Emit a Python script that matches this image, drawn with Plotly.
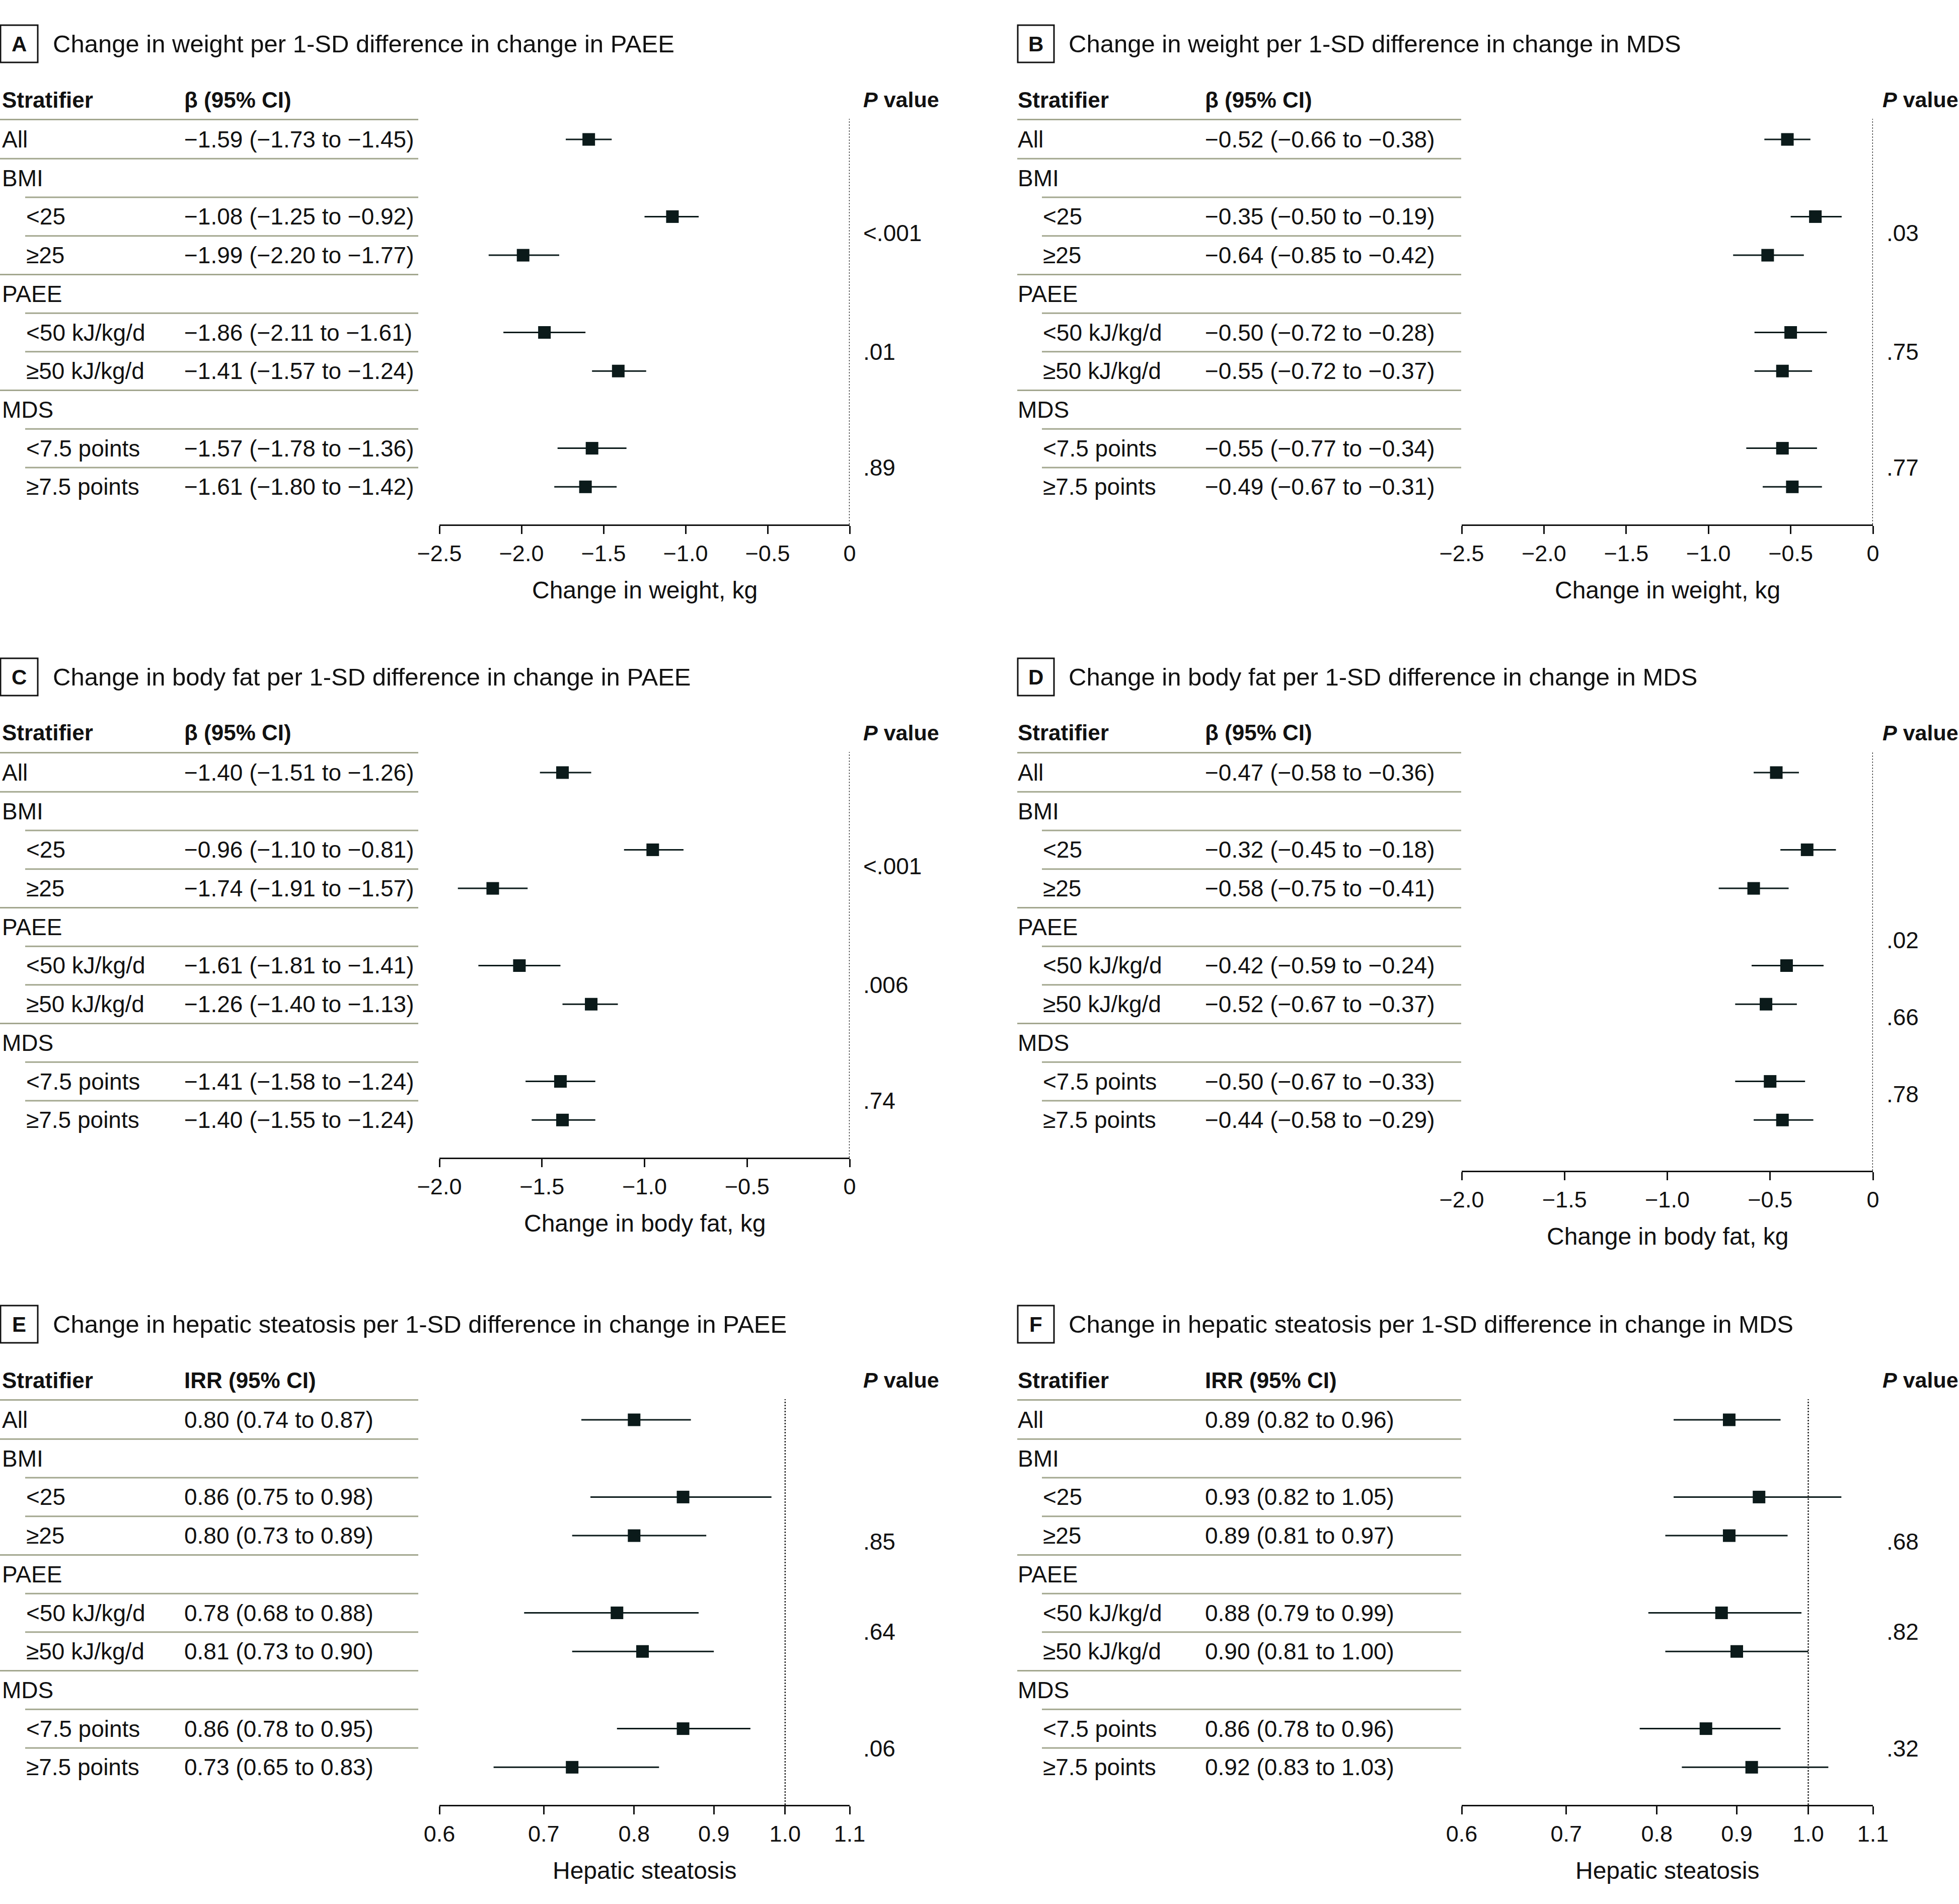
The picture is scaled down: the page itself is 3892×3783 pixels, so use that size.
import math
import plotly.graph_objects as go

W, H = 3892, 3783
FONT = "Liberation Sans, Arial, Helvetica, sans-serif"
INK = "#0b1a1a"
RULE = "#a3a78f"

# ------------------------------------------------------------------ data
stratifiers = ["All", "BMI", "&lt;25", "≥25", "PAEE", "&lt;50 kJ/kg/d", "≥50 kJ/kg/d",
               "MDS", "&lt;7.5 points", "≥7.5 points"]
indented = [False, False, True, True, False, True, True, False, True, True]
est_rows = [0, 2, 3, 5, 6, 8, 9]          # rows that carry an estimate

a_est = [-1.59, -1.08, -1.99, -1.86, -1.41, -1.57, -1.61]
a_lo = [-1.73, -1.25, -2.20, -2.11, -1.57, -1.78, -1.80]
a_hi = [-1.45, -0.92, -1.77, -1.61, -1.24, -1.36, -1.42]
a_p = ["&lt;.001", ".01", ".89"]

b_est = [-0.52, -0.35, -0.64, -0.50, -0.55, -0.55, -0.49]
b_lo = [-0.66, -0.50, -0.85, -0.72, -0.72, -0.77, -0.67]
b_hi = [-0.38, -0.19, -0.42, -0.28, -0.37, -0.34, -0.31]
b_p = [".03", ".75", ".77"]

c_est = [-1.40, -0.96, -1.74, -1.61, -1.26, -1.41, -1.40]
c_lo = [-1.51, -1.10, -1.91, -1.81, -1.40, -1.58, -1.55]
c_hi = [-1.26, -0.81, -1.57, -1.41, -1.13, -1.24, -1.24]
c_p = ["&lt;.001", ".006", ".74"]

d_est = [-0.47, -0.32, -0.58, -0.42, -0.52, -0.50, -0.44]
d_lo = [-0.58, -0.45, -0.75, -0.59, -0.67, -0.67, -0.58]
d_hi = [-0.36, -0.18, -0.41, -0.24, -0.37, -0.33, -0.29]
d_p = [".02", ".66", ".78"]

e_est = [0.80, 0.86, 0.80, 0.78, 0.81, 0.86, 0.73]
e_lo = [0.74, 0.75, 0.73, 0.68, 0.73, 0.78, 0.65]
e_hi = [0.87, 0.98, 0.89, 0.88, 0.90, 0.95, 0.83]
e_p = [".85", ".64", ".06"]

f_est = [0.89, 0.93, 0.89, 0.88, 0.90, 0.86, 0.92]
f_lo = [0.82, 0.82, 0.81, 0.79, 0.81, 0.78, 0.83]
f_hi = [0.96, 1.05, 0.97, 0.99, 1.00, 0.96, 1.03]
f_p = [".68", ".82", ".32"]

weight_ticks = [-2.5, -2.0, -1.5, -1.0, -0.5, 0]
weight_ticktext = ["−2.5", "−2.0", "−1.5", "−1.0", "−0.5", "0"]
fat_ticks = [-2.0, -1.5, -1.0, -0.5, 0]
fat_ticktext = ["−2.0", "−1.5", "−1.0", "−0.5", "0"]
irr_ticks = [0.6, 0.7, 0.8, 0.9, 1.0, 1.1]
irr_ticktext = ["0.6", "0.7", "0.8", "0.9", "1.0", "1.1"]

# ------------------------------------------------------------------ layout geometry (pixels)
COLS = {
    "L": dict(box=(1, 75), title_x=103, strat_x=2, indent_x=50, est_x=364,
              rule=(0, 831), rule_ind=(50, 831), plot=(873, 1688), p_x=1713, ph_x=1713),
    "R": dict(box=(2022, 2094), title_x=2121, strat_x=2020, indent_x=2070, est_x=2392,
              rule=(2021, 2903), rule_ind=(2070, 2903), plot=(2904, 3721), p_x=3746, ph_x=3738),
}
ROW0, ROWSTEP = 277, 76.7
HEADER_RULE = 236

panels = [
    dict(letter="A", col="L", off=0, axis_px=1042,
         title="Change in weight per 1-SD difference in change in PAEE",
         stat="β (95% CI)", est=a_est, lo=a_lo, hi=a_hi, p=a_p, p_rows=[2.43, 5.5, 8.5],
         ticks=weight_ticks, ticktext=weight_ticktext, log=False, ref=0,
         xtitle="Change in weight, kg"),
    dict(letter="B", col="R", off=0, axis_px=1042,
         title="Change in weight per 1-SD difference in change in MDS",
         stat="β (95% CI)", est=b_est, lo=b_lo, hi=b_hi, p=b_p, p_rows=[2.43, 5.5, 8.5],
         ticks=weight_ticks, ticktext=weight_ticktext, log=False, ref=0,
         xtitle="Change in weight, kg"),
    dict(letter="C", col="L", off=1258, axis_px=1042,
         title="Change in body fat per 1-SD difference in change in PAEE",
         stat="β (95% CI)", est=c_est, lo=c_lo, hi=c_hi, p=c_p, p_rows=[2.43, 5.5, 8.5],
         ticks=fat_ticks, ticktext=fat_ticktext, log=False, ref=0,
         xtitle="Change in body fat, kg"),
    dict(letter="D", col="R", off=1258, axis_px=1068,
         title="Change in body fat per 1-SD difference in change in MDS",
         stat="β (95% CI)", est=d_est, lo=d_lo, hi=d_hi, p=d_p, p_rows=[4.34, 6.34, 8.33],
         ticks=fat_ticks, ticktext=fat_ticktext, log=False, ref=0,
         xtitle="Change in body fat, kg"),
    dict(letter="E", col="L", off=2544, axis_px=1042,
         title="Change in hepatic steatosis per 1-SD difference in change in PAEE",
         stat="IRR (95% CI)", est=e_est, lo=e_lo, hi=e_hi, p=e_p, p_rows=[3.16, 5.49, 8.51],
         ticks=irr_ticks, ticktext=irr_ticktext, log=True, ref=1.0,
         xtitle="Hepatic steatosis"),
    dict(letter="F", col="R", off=2544, axis_px=1042,
         title="Change in hepatic steatosis per 1-SD difference in change in MDS",
         stat="IRR (95% CI)", est=f_est, lo=f_lo, hi=f_hi, p=f_p, p_rows=[3.16, 5.49, 8.51],
         ticks=irr_ticks, ticktext=irr_ticktext, log=True, ref=1.0,
         xtitle="Hepatic steatosis"),
]


def fx(p):
    return p / W


def fy(p):
    return 1 - p / H


def fmt(v):
    return f"{v:.2f}".replace("-", "−")


fig = go.Figure()
annotations = []
shapes = []
layout_axes = {}

for k, pn in enumerate(panels):
    n = k + 1
    sfx = "" if n == 1 else str(n)
    xa, ya = "x" + sfx, "y" + sfx
    col = COLS[pn["col"]]
    off = pn["off"]

    # ---- axes
    top_val = (HEADER_RULE - ROW0) / ROWSTEP
    bot_val = (pn["axis_px"] - ROW0) / ROWSTEP
    if pn["log"]:
        xr = [math.log10(pn["ticks"][0]), math.log10(pn["ticks"][-1])]
    else:
        xr = [pn["ticks"][0], pn["ticks"][-1]]
    layout_axes["xaxis" + sfx] = dict(
        domain=[fx(col["plot"][0]), fx(col["plot"][1])], anchor=ya,
        type="log" if pn["log"] else "linear", range=xr,
        tickvals=pn["ticks"], ticktext=pn["ticktext"],
        showline=True, linecolor="#111111", linewidth=3,
        ticks="outside", ticklen=16, tickwidth=2.5, tickcolor="#111111",
        tickfont=dict(family=FONT, size=45, color="#111111"),
        ticklabelstandoff=0, automargin=False,
        showgrid=False, zeroline=False, fixedrange=True,
    )
    layout_axes["yaxis" + sfx] = dict(
        domain=[fy(off + pn["axis_px"]), fy(off + HEADER_RULE)], anchor=xa,
        range=[bot_val, top_val], visible=False, showgrid=False, zeroline=False,
        automargin=False,
    )

    # ---- estimates
    fig.add_trace(go.Scatter(
        x=pn["est"], y=est_rows, xaxis=xa, yaxis=ya, mode="markers",
        marker=dict(symbol="square", size=25, color=INK, line=dict(width=0)),
        error_x=dict(type="data", symmetric=False,
                     array=[h - e for h, e in zip(pn["hi"], pn["est"])],
                     arrayminus=[e - l for e, l in zip(pn["est"], pn["lo"])],
                     width=0, thickness=3, color=INK),
        cliponaxis=False, showlegend=False, hoverinfo="skip",
    ))

    # ---- reference line
    shapes.append(dict(type="line", xref=xa, yref=ya + " domain",
                       x0=pn["ref"], x1=pn["ref"], y0=0, y1=1,
                       line=dict(color="#222222", width=2.5, dash="dot")))

    # ---- panel letter box + title
    shapes.append(dict(type="rect", xref="paper", yref="paper",
                       x0=fx(col["box"][0]), x1=fx(col["box"][1]),
                       y0=fy(off + 124), y1=fy(off + 50),
                       line=dict(color="#111111", width=3), fillcolor="rgba(0,0,0,0)"))
    annotations.append(dict(text=f"<b>{pn['letter']}</b>", xref="paper", yref="paper",
                            x=fx((col["box"][0] + col["box"][1]) / 2), y=fy(off + 87),
                            xanchor="center", yanchor="middle", showarrow=False,
                            font=dict(family=FONT, size=42, color="#111111")))
    annotations.append(dict(text=pn["title"], xref="paper", yref="paper",
                            x=fx(col["title_x"]), y=fy(off + 87),
                            xanchor="left", yanchor="middle", showarrow=False,
                            font=dict(family=FONT, size=49, color="#111111")))

    # ---- column headers
    for txt, xp, fs in [("<b>Stratifier</b>", col["strat_x"], 44),
                        (f"<b>{pn['stat']}</b>", col["est_x"], 44),
                        ("<b><i>P</i> value</b>", col["ph_x"], 43)]:
        annotations.append(dict(text=txt, xref="paper", yref="paper",
                                x=fx(xp), y=fy(off + 198), xanchor="left", yanchor="middle",
                                showarrow=False, font=dict(family=FONT, size=fs, color="#111111")))

    # ---- header rule
    shapes.append(dict(type="line", xref="paper", yref=ya,
                       x0=fx(col["rule"][0]), x1=fx(col["rule"][1]),
                       y0=top_val + 0.02, y1=top_val + 0.02, line=dict(color=RULE, width=3)))

    # ---- row labels, rules
    for i, lab in enumerate(stratifiers):
        annotations.append(dict(text=lab, xref="paper", yref=ya,
                                x=fx(col["indent_x"] if indented[i] else col["strat_x"]), y=i,
                                xanchor="left", yanchor="middle", showarrow=False,
                                font=dict(family=FONT, size=46, color="#111111")))
        if i < len(stratifiers) - 1:
            rx = col["rule_ind"] if indented[i + 1] else col["rule"]
            shapes.append(dict(type="line", xref="paper", yref=ya,
                               x0=fx(rx[0]), x1=fx(rx[1]), y0=i + 0.5, y1=i + 0.5,
                               line=dict(color=RULE, width=3)))

    # ---- estimate text
    for r, e, l, h in zip(est_rows, pn["est"], pn["lo"], pn["hi"]):
        annotations.append(dict(text=f"{fmt(e)} ({fmt(l)} to {fmt(h)})", xref="paper", yref=ya,
                                x=fx(col["est_x"]), y=r, xanchor="left", yanchor="middle",
                                showarrow=False, font=dict(family=FONT, size=46, color="#111111")))

    # ---- P values
    for txt, r in zip(pn["p"], pn["p_rows"]):
        annotations.append(dict(text=txt, xref="paper", yref=ya,
                                x=fx(col["p_x"]), y=r, xanchor="left", yanchor="middle",
                                showarrow=False, font=dict(family=FONT, size=46, color="#111111")))

    # ---- axis title
    annotations.append(dict(text=pn["xtitle"], xref="paper", yref="paper",
                            x=fx((col["plot"][0] + col["plot"][1]) / 2),
                            y=fy(off + pn["axis_px"] + 130),
                            xanchor="center", yanchor="middle", showarrow=False,
                            font=dict(family=FONT, size=48, color="#111111")))

fig.update_layout(
    width=W, height=H, margin=dict(l=0, r=0, t=0, b=0, pad=0, autoexpand=False),
    paper_bgcolor="white", plot_bgcolor="white",
    font=dict(family=FONT, color="#111111"),
    annotations=annotations, shapes=shapes, showlegend=False,
    **layout_axes,
)

fig.write_html("out.html")
